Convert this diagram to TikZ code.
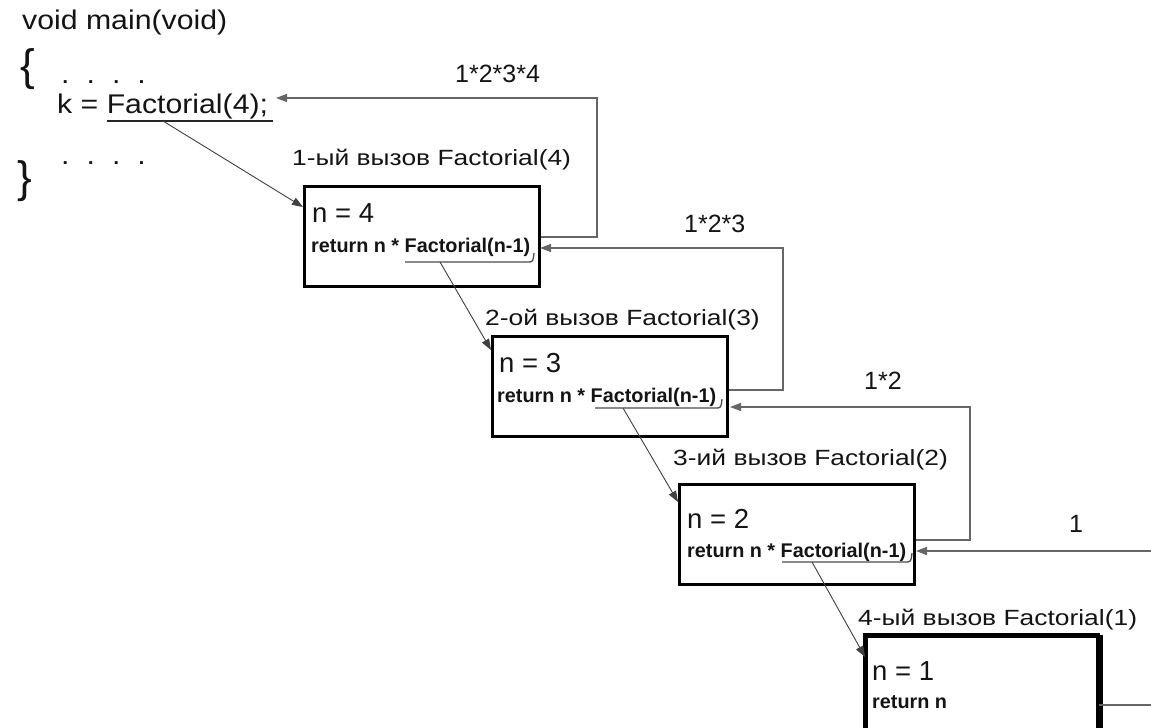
\documentclass[tikz,border=0pt]{standalone}
\usepackage{fontspec}
\setmainfont{Liberation Sans}
\newfontfamily\widef[FakeStretch=1.12]{Liberation Sans}
\newfontfamily\labf[FakeStretch=1.2]{Liberation Sans}
\usetikzlibrary{arrows.meta,calc}
\begin{document}
\begin{tikzpicture}[x=1pt,y=-1pt,
  txt/.style={anchor=base west,inner sep=0pt,text=black!92},
  maintxt/.style={txt,font=\widef\fontsize{27}{30}\selectfont},
  bracetxt/.style={txt,font=\fontsize{44}{46}\selectfont},
  labtxt/.style={txt,font=\labf\fontsize{22}{24}\selectfont},
  ntxt/.style={txt,font=\fontsize{27.5}{30}\selectfont},
  rettxt/.style={txt,font=\bfseries\fontsize{19.8}{22}\selectfont},
  numtxt/.style={txt,font=\fontsize{25}{28}\selectfont},
  box/.style={draw=black,line width=3.2pt,minimum width=235pt,minimum height=100pt,anchor=north west,inner sep=0pt},
  call/.style={draw=black!75,line width=0.9pt,-{Triangle[length=11pt,width=8pt]}},
  ret/.style={draw=black!60,line width=1.3pt,-{Triangle[length=11pt,width=8pt]}},
  retline/.style={draw=black!60,line width=1.3pt},
  uline/.style={draw=black!70,line width=1.3pt}]
\fill[white] (0,0) rectangle (1151,728);
\useasboundingbox (0,0) rectangle (1151,728);
\clip (0,0) rectangle (1151,728);

% main program
\node[maintxt] (vm) at (22,29) {void main(void)};
\node[bracetxt] (ob) at (20,80) {\{};
\node[maintxt] (d1) at (61,83) {.\hspace{17pt}.\hspace{17pt}.\hspace{17pt}.};
\node[maintxt] (kk) at (57,113) {k = Factorial(4);};
\node[bracetxt] (cb) at (17,192) {\}};
\node[maintxt] (d2) at (61,164) {.\hspace{17pt}.\hspace{17pt}.\hspace{17pt}.};
\coordinate (ku0) at (107,121);
\coordinate (ku1) at (273,121);
\draw[black!85,line width=1.8pt] (ku0) -- (ku1);
\coordinate (kcall) at (163,121);
\coordinate (kend) at (276,98);

% boxes
\node[box] (b1) at (303,185) {};
\node[box] (b2) at (491,335) {};
\node[box] (b3) at (678,483) {};
\node[box] (b4) at (865,635) {};
\draw[black,line width=3.2pt] (865,635) rectangle (1098,760);

% labels
\node[labtxt] (l1) at (292,165) {1-ый вызов Factorial(4)};
\node[labtxt] (l2) at (485,325) {2-ой вызов Factorial(3)};
\node[labtxt] (l3) at (673,465) {3-ий вызов Factorial(2)};
\node[labtxt] (l4) at (858,625) {4-ый вызов Factorial(1)};

% box contents
\node[ntxt] (n1) at (312,222) {n = 4};
\node[rettxt] (r1) at (311,252) {return n * Factorial(n-1)};
\node[ntxt] (n2) at (499,372) {n = 3};
\node[rettxt] (r2) at (497,402) {return n * Factorial(n-1)};
\node[ntxt] (n3) at (687,528) {n = 2};
\node[rettxt] (r3) at (687,557) {return n * Factorial(n-1)};
\node[ntxt] (n4) at (872,680) {n = 1};
\node[rettxt] (r4) at (872,708) {return n};

% underlines of Factorial(n-1)
\coordinate (u1) at (440,262);
\coordinate (u2) at (623,408);
\coordinate (u3) at (812,562);
\draw[uline] (405,262) -- (527,262) .. controls (533,262) .. (534,253);
\draw[uline] (595,408) -- (715,408) .. controls (721,408) .. (722,399);
\draw[uline] (782,562) -- (905,562) .. controls (911,562) .. (912,553);

% call arrows
\draw[call] (kcall) -- ($(b1.north west)+(0,22)$);
\draw[call] (u1) -- ($(b2.north west)+(0,15)$);
\draw[call] (u2) -- ($(b3.north west)+(0,19)$);
\draw[call] (u3) -- ($(b4.north west)+(0,22)$);

% return arrows
\coordinate (c1) at (597,237);
\coordinate (c2) at (783,390);
\coordinate (c3) at (970,540);
\coordinate (c4) at (1160,551);
\draw[ret] (b1.east |- c1) -- (c1) |- (kend);
\draw[ret] (b2.east |- c2) -- (c2) |- (540,248);
\draw[ret] (b3.east |- c3) -- (c3) |- (730,407);
\draw[ret] (c4) -- (916,551);
\draw[retline] (1099,705) -- (1160,705);

% return values
\node[numtxt] (v1) at (455,82) {1*2*3*4};
\node[numtxt] (v2) at (684,232) {1*2*3};
\node[numtxt] (v3) at (864,389) {1*2};
\node[numtxt] (v4) at (1069,532) {1};
\end{tikzpicture}
\end{document}
